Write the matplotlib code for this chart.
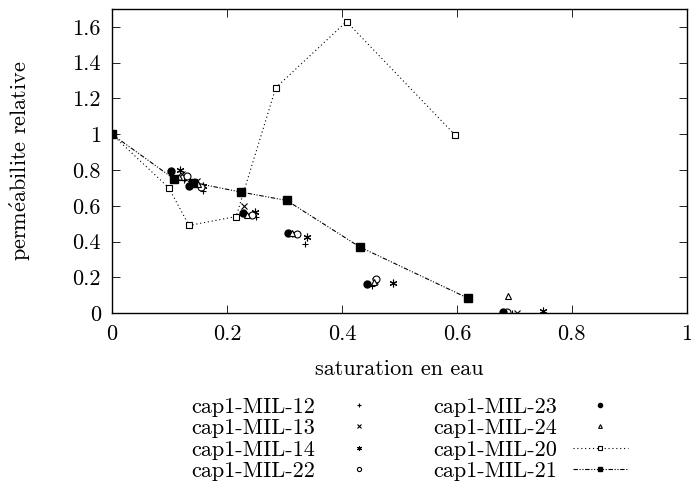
import matplotlib
matplotlib.use("Agg")
from matplotlib import pyplot as plt
from matplotlib.ticker import FormatStrFormatter

plt.rcParams['font.family'] = ['cmr10', 'DejaVu Serif']
plt.rcParams['mathtext.fontset'] = 'cm'
plt.rcParams['axes.formatter.use_mathtext'] = True
plt.rcParams['font.size'] = 16

# saturation en eau / permeabilite relative
sw_12 = [0, 0.125, 0.158, 0.250, 0.336, 0.452, 0.695]
kr_12 = [1, 0.745, 0.680, 0.540, 0.385, 0.150, 0.0]
sw_13 = [0, 0.122, 0.148, 0.229, 0.318, 0.458, 0.705]
kr_13 = [1, 0.780, 0.740, 0.600, 0.445, 0.180, 0.0]
sw_14 = [0, 0.118, 0.158, 0.249, 0.339, 0.489, 0.750]
kr_14 = [1, 0.800, 0.710, 0.565, 0.425, 0.170, 0.010]
sw_22 = [0, 0.130, 0.155, 0.243, 0.322, 0.460, 0.687]
kr_22 = [1, 0.765, 0.705, 0.550, 0.440, 0.190, 0.005]
sw_23 = [0, 0.103, 0.134, 0.228, 0.306, 0.443, 0.680]
kr_23 = [1, 0.795, 0.710, 0.560, 0.450, 0.165, 0.005]
sw_24 = [0, 0.117, 0.150, 0.235, 0.313, 0.456, 0.689]
kr_24 = [1, 0.760, 0.720, 0.550, 0.450, 0.175, 0.095]
sw_20 = [0, 0.099, 0.134, 0.216, 0.285, 0.408, 0.597]
kr_20 = [1, 0.700, 0.490, 0.540, 1.260, 1.630, 0.995]
sw_21 = [0, 0.108, 0.141, 0.224, 0.304, 0.431, 0.619]
kr_21 = [1, 0.750, 0.730, 0.677, 0.630, 0.370, 0.084]

fig = plt.figure(figsize=(6.91, 4.87), dpi=100)
ax = fig.add_axes([0.162, 0.357, 0.832, 0.6245])

ms = 5
ax.plot(sw_12, kr_12, ls='none', marker='+', ms=ms, mew=0.8, color='k', label='cap1-MIL-12')
ax.plot(sw_13, kr_13, ls='none', marker='x', ms=ms - 0.5, mew=0.8, color='k', label='cap1-MIL-13')
ax.plot(sw_14, kr_14, ls='none', marker=(6, 2, 0), ms=ms + 0.5, mew=0.8, color='k', label='cap1-MIL-14')
ax.plot(sw_22, kr_22, ls='none', marker='o', ms=ms, mew=0.8, mfc='white', color='k', label='cap1-MIL-22')
ax.plot(sw_23, kr_23, ls='none', marker='o', ms=ms, color='k', label='cap1-MIL-23')
ax.plot(sw_24, kr_24, ls='none', marker='^', ms=ms - 0.5, mew=0.8, mfc='white', color='k', label='cap1-MIL-24')
ax.plot(sw_20, kr_20, ls=(0, (1, 2.5)), lw=0.8, marker='s', ms=ms, mew=0.8, mfc='white',
        color='k', label='cap1-MIL-20')
ax.plot(sw_21, kr_21, ls=(0, (4, 1.5, 1, 1.5, 1, 1.5)), lw=0.8, marker='s', ms=ms + 0.5,
        color='k', label='cap1-MIL-21')

ax.set_xlim(0, 1)
ax.set_ylim(0, 1.7)
ax.set_xticks([0, 0.2, 0.4, 0.6, 0.8, 1])
ax.set_yticks([0, 0.2, 0.4, 0.6, 0.8, 1, 1.2, 1.4, 1.6])
ax.xaxis.set_major_formatter(FormatStrFormatter('%g'))
ax.yaxis.set_major_formatter(FormatStrFormatter('%g'))
ax.tick_params(direction='in', top=True, right=True, length=6, width=0.6, pad=8)
for s in ax.spines.values():
    s.set_linewidth(1.0)

ax.set_xlabel('saturation en eau', labelpad=11)
ax.set_ylabel(r'perm$\acute{\mathrm{e}}$abilite relative', labelpad=28)

handles, labels = ax.get_legend_handles_labels()
fig.legend(handles, labels, loc='upper center', bbox_to_anchor=(0.593, 0.207), ncol=2,
           frameon=False, markerfirst=False, handlelength=2.5, handletextpad=0.7,
           columnspacing=2.1, labelspacing=0.08, markerscale=0.6, borderpad=0)

fig.savefig('out.png', dpi=100)
